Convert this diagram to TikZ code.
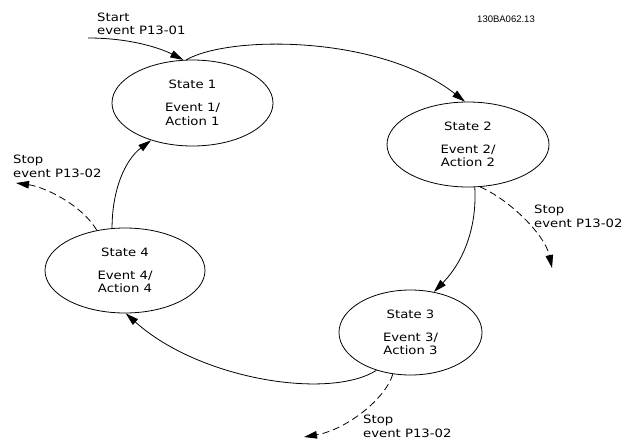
\documentclass[tikz,border=0pt]{standalone}
\usepackage{fontspec}
\setmainfont{DejaVu Sans}[FakeStretch=1.15]
\newfontfamily\codefont{Liberation Sans}
\usetikzlibrary{shapes.geometric,arrows.meta}
\begin{document}
\begin{tikzpicture}[x=1pt,y=-1pt,
  stbox/.style={ellipse,draw,line width=0.8pt,inner sep=0pt,align=center,
    font=\fontsize{11.5}{13.5}\selectfont},
  lbl/.style={anchor=north west,inner sep=0pt,align=left,
    font=\fontsize{11.5}{13.5}\selectfont},
  tr/.style={line width=0.8pt,-{Triangle[length=13pt,width=7.5pt]}},
  stoptr/.style={tr,dash pattern=on 7pt off 4pt}]
\useasboundingbox (0,0) rectangle (628,439);

\node[stbox,minimum width=161pt,minimum height=86pt] (s1) at (192.5,103)
  {State 1\\[9.5pt]Event 1/\\Action 1};
\node[stbox,minimum width=162pt,minimum height=85pt] (s2) at (468,144.5)
  {State 2\\[9.5pt]Event 2/\\Action 2};
\node[stbox,minimum width=143pt,minimum height=85pt] (s3) at (410.5,332.5)
  {State 3\\[9.5pt]Event 3/\\Action 3};
\node[stbox,minimum width=160pt,minimum height=85pt] (s4) at (125,270.5)
  {State 4\\[9.5pt]Event 4/\\Action 4};

\node[lbl] (lstart) at (97,12.5) {Start\\event P13-01};
\node[lbl] (lstop2) at (534,205) {Stop\\event P13-02};
\node[lbl] (lstop3) at (363,415) {Stop\\event P13-02};
\node[lbl] (lstop4) at (13,155) {Stop\\event P13-02};
\node[inner sep=0pt,font=\codefont\fontsize{9.5}{11}\selectfont] (code) at (506,19) {130BA062.13};

\coordinate (start) at (88,38);
\coordinate (e2) at (552,268);
\coordinate (e3) at (304,437);
\coordinate (e4) at (16,183);

\draw[tr] (start) .. controls (130,38) and (160,48) .. (s1.102);
\draw[tr] (s1.98) .. controls (230,35) and (380,35) .. (s2.94);
\draw[tr] (s2.-81) .. controls (477,225) and (465,260) .. (s3.60);
\draw[tr] (s3.-132) .. controls (330,400) and (200,380) .. (s4.-89);
\draw[tr] (s4.107) .. controls (112,190) and (125,160) .. (s1.-138);

\draw[stoptr] (s2.-74) .. controls (510,200) and (545,235) .. (e2);
\draw[stoptr] (s3.-113) .. controls (385,400) and (345,430) .. (e3);
\draw[stoptr] (s4.125) .. controls (82,205) and (45,187) .. (e4);
\end{tikzpicture}
\end{document}
